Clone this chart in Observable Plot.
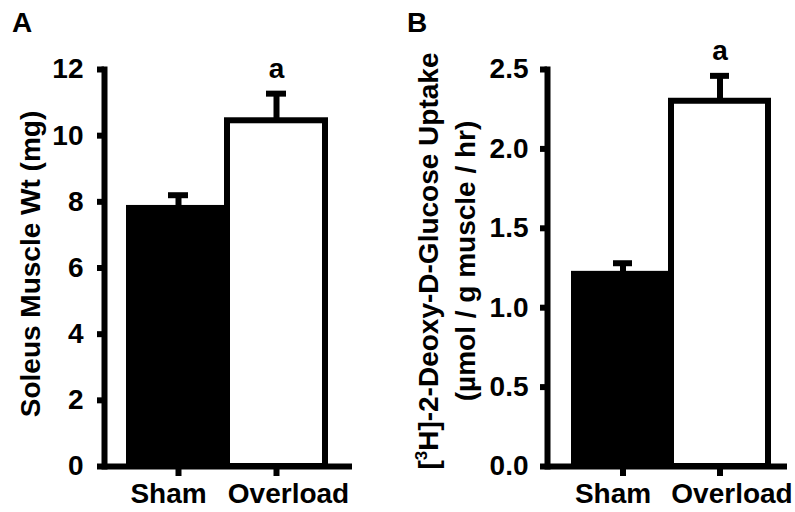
<!DOCTYPE html>
<html><head><meta charset="utf-8">
<script src="https://cdn.jsdelivr.net/npm/d3@7"></script>
<script src="https://cdn.jsdelivr.net/npm/@observablehq/plot@0.6"></script>
<style>
body{margin:0;background:#fff;}
#wrap{position:relative;width:795px;height:512px;overflow:hidden;font-family:"Liberation Sans",Arial,sans-serif;font-weight:bold;color:#000;background:#fff;}
.panel{position:absolute;top:0;}
.letter{position:absolute;font-size:28px;line-height:28px;}
.ylab{position:absolute;font-size:28px;text-align:center;white-space:nowrap;transform:translate(-50%,-50%) rotate(-90deg);}
.ylab sup{font-size:0.6em;line-height:0;vertical-align:0.65em;}
</style></head>
<body><div id="wrap"></div>
<script>
// ---- data ----
const groups = ["Sham", "Overload"];
const barFills = ["black", "white"];
const sigLabels = ["", "a"];
const massMean = [7.8, 10.45];     // Soleus muscle wt (mg)
const massSEM  = [0.4, 0.82];
const glucMean = [1.21, 2.30];     // 2-DG uptake (µmol/g muscle/hr)
const glucSEM  = [0.07, 0.16];
const massTicks = [0, 2, 4, 6, 8, 10, 12];
const glucTicks = [0, 0.5, 1.0, 1.5, 2.0, 2.5];

function panel(o) {
  const data = groups.map((g, i) => ({group: g, mean: o.means[i], top: o.means[i] + o.sems[i], sig: sigLabels[i], fill: barFills[i]}));
  return Plot.plot({
    width: o.width, height: 512,
    marginTop: 69, marginBottom: 46, marginLeft: o.marginLeft, marginRight: o.marginRight,
    style: {fontFamily: "'Liberation Sans', Arial, sans-serif", fontSize: "28px", fontWeight: "bold", background: "white", overflow: "visible", color: "black"},
    x: {domain: groups, paddingInner: 0, paddingOuter: o.paddingOuter, align: o.align},
    y: {domain: [0, o.ymax]},
    marks: [
      Plot.barY(data, {x: "group", y: "mean", fill: "fill", stroke: "black", strokeWidth: 6}),
      Plot.ruleX(data, {x: "group", y1: "mean", y2: "top", stroke: "black", strokeWidth: 6}),
      Plot.tickY(data, {x: "group", y: "top", stroke: "black", strokeWidth: 6, inset: 39}),
      Plot.text(data, {x: "group", y: "top", text: "sig", dy: -25, fontSize: 28, fontWeight: "bold"}),
      Plot.ruleY([0], {stroke: "black", strokeWidth: 6}),
      Plot.frame({anchor: "left", stroke: "black", strokeWidth: 6}),
      Plot.axisY({ticks: o.ticks, tickSize: 7, tickPadding: o.tickPadding, strokeWidth: 6, tickFormat: o.fmt, label: null, fontSize: 28}),
      Plot.axisX({tickSize: 10, strokeWidth: 6, tickFormat: () => "", label: null}),
      Plot.axisX({ticks: [groups[0]], tickSize: 0, tickPadding: 17, dx: -10, label: null, fontSize: 28}),
      Plot.axisX({ticks: [groups[1]], tickSize: 0, tickPadding: 17, dx: 12, label: null, fontSize: 28})
    ]
  });
}

const wrap = document.getElementById("wrap");

const pA = panel({means: massMean, sems: massSEM, ticks: massTicks, fmt: d3.format("d"), ymax: 12,
  width: 397, marginLeft: 104, marginRight: 45, paddingOuter: 0.265, align: 0.48, tickPadding: 14});
pA.classList.add("panel"); pA.style.left = "0px";
wrap.appendChild(pA);

const pB = panel({means: glucMean, sems: glucSEM, ticks: glucTicks, fmt: d3.format(".1f"), ymax: 2.5,
  width: 398, marginLeft: 150, marginRight: 8, paddingOuter: 0.2245, align: 0.59, tickPadding: 12});
pB.classList.add("panel"); pB.style.left = "397px";
wrap.appendChild(pB);

function addHTML(cls, html, css) {
  const d = document.createElement("div");
  d.className = cls; d.innerHTML = html;
  Object.assign(d.style, css);
  wrap.appendChild(d);
}
addHTML("letter", "A", {left: "12px", top: "9px"});
addHTML("letter", "B", {left: "407px", top: "9px"});
addHTML("ylab", "Soleus Muscle Wt (mg)", {left: "31px", top: "264px", lineHeight: "32px"});
addHTML("ylab", "[<sup>3</sup>H]-2-Deoxy-D-Glucose Uptake<br>(µmol / g muscle / hr)", {left: "447px", top: "261px", lineHeight: "37px"});
</script>
</body></html>
